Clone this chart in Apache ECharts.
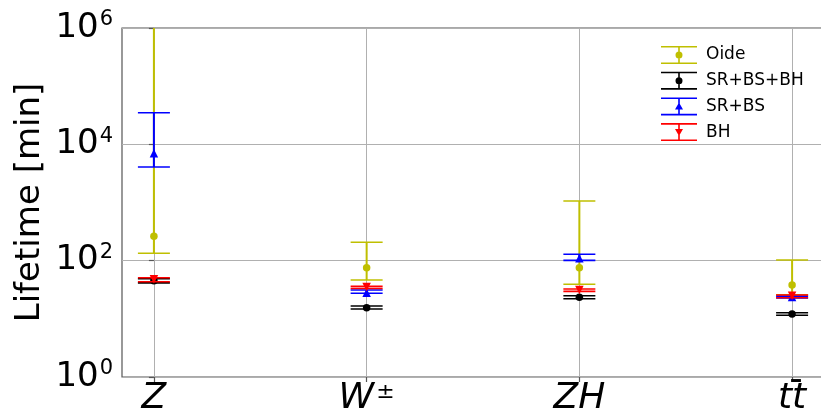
<!DOCTYPE html>
<html>
<head>
<meta charset="utf-8">
<script src="https://cdn.jsdelivr.net/npm/echarts@6/dist/echarts.min.js"></script>
<style>
html,body{margin:0;padding:0;background:#fff;}
#c{width:821px;height:413px;}
</style>
</head>
<body>
<div id="c"></div>
<script>
// ---- data ----
const categories = ['Z', 'W±', 'ZH', 'tt'];
const categoryBars = ['', '', '', '¯'];   // overbar (t-bar) for the last category
const categoryIndex = [0, 1, 2, 3];
const yTicks = [1, 100, 10000, 1000000];

const oideVal  = [262, 75.7, 75.7, 38.2];
const oideLow  = [134, 46.5, 39.2, 26];
const oideHigh = [2000000, 207, 1060, 102.6];

const srbsbhVal  = [45, 15.5, 23.5, 12.1];
const srbsbhLow  = [41.5, 14.8, 22.2, 11.5];
const srbsbhHigh = [49, 16.6, 25, 12.7];

const srbsVal  = [7000, 28, 110, 23.7];
const srbsLow  = [4070, 27.5, 101, 22.8];
const srbsHigh = [35000, 31.3, 128.6, 24.6];

const bhVal  = [48, 35.2, 31.3, 25];
const bhLow  = [43.5, 33.2, 29.7, 23.1];
const bhHigh = [51, 36.2, 32.6, 25.7];

const seriesNames = ['Oide', 'SR+BS+BH', 'SR+BS', 'BH'];
// ---- build ----
const defs = [
  {name: seriesNames[0], color: '#bfbf00', val: oideVal, low: oideLow, high: oideHigh, symbol: 'circle', size: 7.5, rot: 0},
  {name: seriesNames[1], color: '#000000', val: srbsbhVal, low: srbsbhLow, high: srbsbhHigh, symbol: 'circle', size: 7.5, rot: 0},
  {name: seriesNames[2], color: '#0000ff', val: srbsVal, low: srbsLow, high: srbsHigh, symbol: 'triangle', size: 8.5, rot: 0},
  {name: seriesNames[3], color: '#ff0000', val: bhVal, low: bhLow, high: bhHigh, symbol: 'triangle', size: 8.5, rot: 180}
];

const capHalf = 16;
function errRender(color) {
  return function (params, api) {
    const x = api.value(0);
    const p1 = api.coord([x, api.value(1)]);
    const p2 = api.coord([x, api.value(2)]);
    const cs = params.coordSys;
    const top = cs.y, bot = cs.y + cs.height;
    const children = [];
    const yA = p1[1], yB = p2[1];
    const clampA = Math.min(Math.max(yA, top), bot);
    const clampB = Math.min(Math.max(yB, top), bot);
    children.push({type: 'line', shape: {x1: p1[0], y1: clampA, x2: p1[0], y2: clampB},
      style: {stroke: color, lineWidth: 2}});
    [yA, yB].forEach(function (yy) {
      if (yy >= top - 0.5 && yy <= bot + 0.5) {
        children.push({type: 'line', shape: {x1: p1[0] - capHalf, y1: yy, x2: p1[0] + capHalf, y2: yy},
          style: {stroke: color, lineWidth: 1.6}});
      }
    });
    return {type: 'group', children: children};
  };
}

const series = [];
defs.forEach(function (d, k) {
  series.push({
    name: d.name,
    type: 'custom',
    renderItem: errRender(d.color),
    data: categoryIndex.map(function (i) { return [i, d.low[i], d.high[i]]; }),
    encode: {x: 0, y: [1, 2]},
    itemStyle: {color: d.color},
    z: 2 + k * 2,
    silent: true
  });
  series.push({
    name: d.name,
    type: 'scatter',
    symbol: d.symbol,
    symbolSize: d.size,
    symbolRotate: d.rot,
    itemStyle: {color: d.color, opacity: 1},
    data: categoryIndex.map(function (i) { return [i, d.val[i]]; }),
    z: 3 + k * 2,
    silent: true
  });
});

function icon(marker) {
  const base = 'path://M0,0H36V1.6H0Z M0,16.4H36V18H0Z M17.2,0H18.8V18H17.2Z ';
  if (marker === 'circle') return base + 'M21.5,9A3.5,3.5 0 1 1 14.5,9A3.5,3.5 0 1 1 21.5,9Z';
  if (marker === 'up') return base + 'M18,5L22,12L14,12Z';
  return base + 'M18,13L14,6L22,6Z';
}
const iconTypes = ['circle', 'circle', 'up', 'down'];

const chart = echarts.init(document.getElementById('c'), null, {renderer: 'canvas'});
chart.setOption({
  animation: false,
  backgroundColor: '#fff',
  grid: {left: 122, top: 28, width: 702, height: 349, show: true, borderColor: '#555', borderWidth: 1.2,
    backgroundColor: 'transparent', containLabel: false, outerBoundsMode: 'none'},
  legend: {
    left: 656, top: 41, orient: 'vertical',
    itemWidth: 36, itemHeight: 18, itemGap: 7.7,
    textStyle: {fontFamily: 'DejaVu Sans', fontSize: 17, color: '#000', padding: [0, 0, 0, 4]},
    data: seriesNames.map(function (n, i) { return {name: n, icon: icon(iconTypes[i])}; })
  },
  xAxis: [{
    type: 'value', min: -0.15, max: 3.15,
    axisLine: {show: false},
    axisTick: {show: true, length: 5, lineStyle: {color: '#555', width: 1.2}, customValues: categoryIndex},
    splitLine: {show: true, lineStyle: {color: '#b0b0b0', width: 1}},
    axisLabel: {
      customValues: categoryIndex,
      margin: 4,
      fontFamily: 'DejaVu Sans', fontStyle: 'italic', fontSize: 36, color: '#000',
      formatter: function (v) {
        const c = categories[Math.round(v)];
        if (c === 'W±') return 'W{sup|±}';
        return c;
      },
      rich: {sup: {fontFamily: 'DejaVu Sans', fontSize: 22, verticalAlign: 'top', padding: [0, 0, 14, 2]}}
    }
  }, {
    type: 'value', min: -0.15, max: 3.15, position: 'bottom',
    axisLine: {show: false}, axisTick: {show: false}, splitLine: {show: false},
    axisLabel: {
      customValues: categoryIndex,
      margin: 1.5,
      fontFamily: 'DejaVu Sans', fontSize: 32, fontWeight: 'bold', color: '#000', lineHeight: 32,
      padding: [0, 0, 0, 8],
      formatter: function (v) { return categoryBars[Math.round(v)]; }
    }
  }],
  yAxis: {
    type: 'log', logBase: 10, min: 1, max: 1000000, interval: 2,
    name: 'Lifetime [min]', nameLocation: 'middle', nameGap: 75, nameMoveOverlap: false,
    nameTextStyle: {fontFamily: 'DejaVu Sans', fontSize: 34, color: '#000'},
    axisLine: {show: false},
    axisTick: {show: true, length: 5, lineStyle: {color: '#555', width: 1.2}},
    minorTick: {show: false},
    splitLine: {show: true, lineStyle: {color: '#b0b0b0', width: 1}},
    axisLabel: {
      margin: 9,
      fontFamily: 'DejaVu Sans', fontSize: 34, color: '#000',
      formatter: function (v) {
        const e = Math.round(Math.log10(v));
        return '10{sup|' + e + '}';
      },
      rich: {sup: {fontFamily: 'DejaVu Sans', fontSize: 21, verticalAlign: 'top', padding: [0, 0, 16, 1]}}
    }
  },
  series: series
});
</script>
</body>
</html>
